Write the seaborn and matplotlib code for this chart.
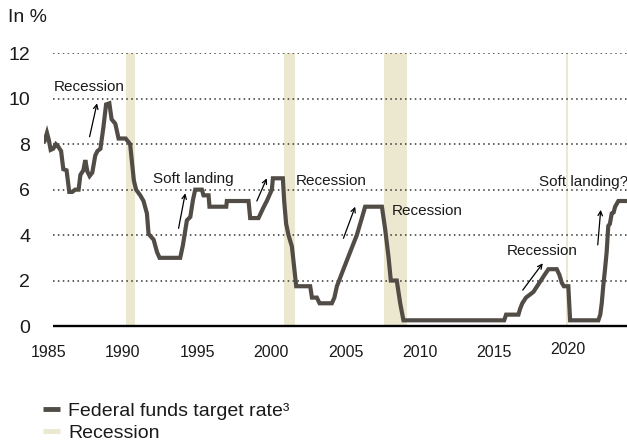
import matplotlib
matplotlib.use("Agg")
import matplotlib.pyplot as plt
import matplotlib.transforms as mtransforms
from matplotlib.lines import Line2D
import numpy as np
import pandas as pd
import seaborn as sns

# ---------------- data ----------------
dates = [1985.02, 1985.20, 1985.32, 1985.45, 1985.62, 1985.80, 1985.95, 1986.15,
         1986.30, 1986.52, 1986.70, 1986.90, 1987.10, 1987.33, 1987.45, 1987.65,
         1987.78, 1987.92, 1988.07, 1988.25, 1988.45, 1988.60, 1988.80, 1989.00,
         1989.18, 1989.40, 1989.55, 1989.80, 1990.02, 1990.50, 1990.80, 1991.05,
         1991.20, 1991.48, 1991.70, 1991.93, 1992.04, 1992.38, 1992.61, 1992.78,
         1994.17, 1994.35, 1994.62, 1994.85, 1995.03, 1995.18, 1995.63, 1995.74,
         1996.08, 1996.14, 1997.27, 1997.31, 1998.77, 1998.88, 1999.44, 1999.62,
         1999.80, 2000.00, 2000.17, 2000.34, 2000.41, 2001.08, 2001.17, 2001.30,
         2001.46, 2001.69, 2001.98, 2002.92, 2003.04, 2003.37, 2003.55, 2004.38,
         2004.55, 2004.72, 2005.16, 2005.61, 2006.06, 2006.40, 2006.62, 2007.75,
         2007.97, 2008.20, 2008.35, 2008.75, 2008.98, 2009.20, 2015.98, 2016.11,
         2016.94, 2017.05, 2017.20, 2017.45, 2017.95, 2018.20, 2018.45, 2018.70,
         2018.96, 2019.52, 2019.70, 2019.86, 2020.00, 2020.30, 2020.42, 2022.32,
         2022.45, 2022.55, 2022.65, 2022.77, 2022.88, 2022.99, 2023.10, 2023.22,
         2023.35, 2023.45, 2023.67, 2024.30]
rates = [8.1, 8.5, 8.2, 7.75, 7.8, 8.0, 7.9, 7.7,
         6.9, 6.85, 5.9, 5.9, 6.0, 6.0, 6.65, 6.85,
         7.3, 6.8, 6.6, 6.75, 7.5, 7.7, 7.8, 8.75,
         9.75, 9.8, 9.1, 8.9, 8.25, 8.25, 8.0, 6.4,
         6.0, 5.75, 5.5, 4.95, 4.05, 3.8, 3.25, 3.0,
         3.0, 3.55, 4.65, 4.8, 5.55, 6.0, 6.0, 5.75,
         5.75, 5.25, 5.25, 5.5, 5.5, 4.75, 4.75, 5.0,
         5.25, 5.5, 5.75, 6.0, 6.5, 6.5, 5.5, 4.5,
         4.0, 3.5, 1.75, 1.75, 1.25, 1.25, 1.0, 1.0,
         1.25, 1.75, 2.5, 3.25, 4.0, 4.75, 5.25, 5.25,
         4.25, 3.0, 2.0, 2.0, 1.0, 0.25, 0.25, 0.5,
         0.5, 0.75, 1.0, 1.25, 1.5, 1.75, 2.0, 2.25,
         2.5, 2.5, 2.25, 1.9, 1.75, 1.75, 0.25, 0.25,
         0.5, 1.0, 1.75, 2.5, 3.25, 4.4, 4.5, 4.95,
         5.0, 5.25, 5.5, 5.5]

recession_starts = [1990.54, 2001.17, 2007.90, 2020.17]
recession_ends = [1991.12, 2001.89, 2009.43, 2020.27]

x_ticks = [1985, 1990, 1995, 2000, 2005, 2010, 2015, 2020]
y_ticks = [0, 2, 4, 6, 8, 10, 12]

annotation_texts = ["Recession", "Soft landing", "Recession", "Recession", "Recession", "Soft landing?"]
text_pos = [(1985.63, 10.53), (1992.33, 6.46), (2001.98, 6.40), (2008.42, 5.08), (2016.16, 3.31), (2018.30, 6.35)]
arrow_tails = [(1988.07, 8.33), (1994.06, 4.30), (1999.33, 5.50), (2005.16, 3.86), (2017.23, 1.58), (2022.28, 3.57)]
arrow_heads = [(1988.57, 9.80), (1994.51, 5.84), (2000.00, 6.50), (2005.95, 5.25), (2018.58, 2.76), (2022.48, 5.11)]

line_label = "Federal funds target rate\u00b3"
band_label = "Recession"

# ---------------- style ----------------
LINE_C = "#524c46"
BAND_C = "#ece7cf"
TEXT_C = "#1a1a1a"

sns.set_theme(style="white")
plt.rcParams["font.family"] = ["Liberation Sans", "DejaVu Sans"]

fig = plt.figure(figsize=(6.27, 4.44), dpi=100)
W, H = 627, 444
ax = fig.add_axes([44 / W, (H - 326) / H, (627 - 44) / W, (326 - 53.3) / H])

df = pd.DataFrame({"date": dates, "rate": rates})

for s, e in zip(recession_starts, recession_ends):
    ax.axvspan(s, e, ymin=0, ymax=1, color=BAND_C, lw=0, zorder=1)

grid_start = 1985.6
xmax = 2024.25
for yv in y_ticks[1:]:
    ax.hlines(yv, grid_start, xmax, colors="#333333", linestyles=(0, (1, 2.2)), lw=1.1, zorder=2)
ax.hlines(0, grid_start, xmax, colors="black", lw=1.7, zorder=2, clip_on=False)

sns.lineplot(data=df, x="date", y="rate", ax=ax, color=LINE_C, lw=3.0,
             estimator=None, sort=False, zorder=4)
for ln in ax.lines[-1:]:
    ln.set_solid_joinstyle("miter")

ax.set_xlim(1985.0, xmax)
ax.set_ylim(0, 12)
ax.set_xlabel("")
ax.set_ylabel("")
for sp in ax.spines.values():
    sp.set_visible(False)

ax.set_xticks(x_ticks)
ax.set_xticklabels([str(t) for t in x_ticks], fontsize=11.5, color=TEXT_C)
ax.set_yticks(y_ticks)
ax.set_yticklabels([str(t) for t in y_ticks], fontsize=14, color=TEXT_C)
ax.tick_params(axis="x", length=0, pad=14)
ax.tick_params(axis="y", length=0, pad=10)

# shift x labels slightly right (as in the reference), 2020 slightly up
for lab in ax.get_xticklabels():
    dy = 2.5 / 72 if lab.get_text() == "2020" else 0
    off = mtransforms.ScaledTranslation(4.5 / 100, dy, fig.dpi_scale_trans)
    lab.set_transform(lab.get_transform() + off)

for txt, (tx, ty), tail, head in zip(annotation_texts, text_pos, arrow_tails, arrow_heads):
    ax.text(tx, ty, txt, fontsize=11, color=TEXT_C, ha="left", va="center", zorder=5, clip_on=False)
    ax.annotate("", xy=head, xytext=tail,
                arrowprops=dict(arrowstyle="->", lw=0.9, color="black",
                                shrinkA=0, shrinkB=0, mutation_scale=8), zorder=5)

fig.text(8 / W, 1 - 17.5 / H, "In %", fontsize=14, color=TEXT_C, ha="left", va="center")

handles = [Line2D([0], [0], color=LINE_C, lw=3.5, solid_capstyle="butt"),
           Line2D([0], [0], color=BAND_C, lw=3.5, solid_capstyle="butt")]
fig.legend(handles, [line_label, band_label], loc="upper left",
           bbox_to_anchor=(43 / W, 1 - 402 / H), frameon=False, fontsize=14,
           handlelength=0.85, handletextpad=0.45, labelspacing=0.25,
           borderpad=0, borderaxespad=0, labelcolor=TEXT_C)

fig.savefig("out.png", dpi=100)
